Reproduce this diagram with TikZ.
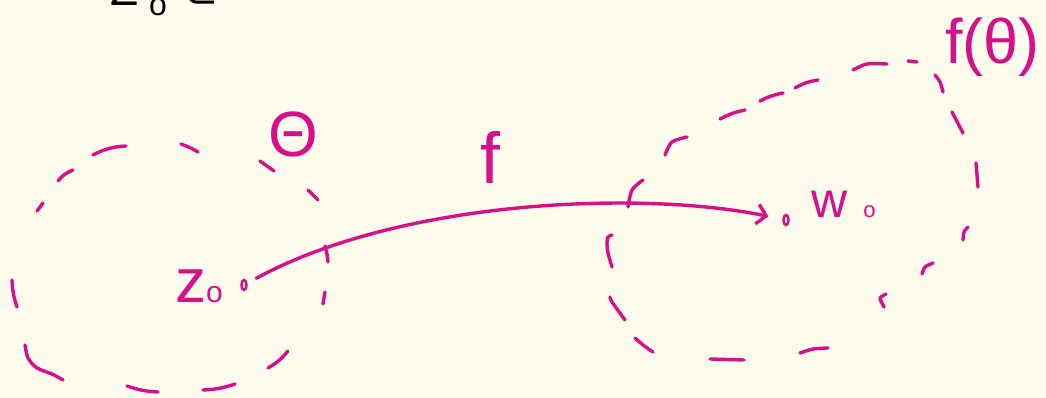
\documentclass[tikz,border=0pt]{standalone}
\usepackage{fontspec}
\setmainfont{Liberation Sans}
\newfontfamily\symfont{DejaVu Sans}
\usetikzlibrary{arrows.meta,shapes.geometric}
\definecolor{bg}{RGB}{253,251,236}
\definecolor{mag}{RGB}{214,16,138}
\begin{document}
\begin{tikzpicture}[x=1pt,y=-1pt,
  pen/.style={mag, line width=3.4pt, line cap=round, line join=round},
  lbl/.style={mag, inner sep=0pt, anchor=base west},
  blk/.style={black, inner sep=0pt, anchor=base west},
  ptmark/.style={draw=mag, line width=2.5pt, ellipse, minimum width=5pt, minimum height=10pt, inner sep=0pt}]
\path[use as bounding box] (0,0) rectangle (1046,398);
\clip (0,0) rectangle (1046,398);
\fill[bg] (0,0) rectangle (1046,398);

% black cut-off heading
\node[blk, font=\fontsize{46}{46}\selectfont] (Zb) at (110,6) {Z};
\node[blk, font=\fontsize{32}{32}\selectfont] (ob) at (149,16) {o};
\node[blk, font=\fontsize{42}{42}\selectfont\symfont] (sub) at (183,8) {⊂};

% left dashed region
\draw[pen] (93,155) to[bend left=12] (126,146);
\draw[pen] (181,144) to[bend left=5] (198,152);
\draw[pen] (260,161) -- (274,171);
\draw[pen] (308,190) -- (318,200);
\draw[pen] (325,246) to[bend left=5] (328,262);
\draw[pen] (325,292) -- (323,304);
\draw[pen] (288,351) to[bend left=10] (268,368);
\draw[pen] (235,384) to[bend left=8] (203,390);
\draw[pen] (158,392) to[bend left=8] (127,386);
\draw[pen] plot[smooth] coordinates {(63,380) (52,374) (37,368) (28,358) (25,345)};
\draw[pen] (17,307) to[bend left=8] (12,280);
\draw[pen] (37,211) -- (43,203);
\draw[pen] (58,181) to[bend left=15] (73,170);

% right dashed region
\draw[pen] plot[smooth] coordinates {(628,207) (632,190) (643,180)};
\draw[pen] plot[smooth] coordinates {(665,155) (672,142) (687,137)};
\draw[pen] (720,119) to[bend left=8] (745,110);
\draw[pen] (760,101) to[bend left=8] (783,93);
\draw[pen] (795,88) to[bend left=10] (818,80);
\draw[pen] plot[smooth] coordinates {(853,70) (867,64) (887,64)};
\draw[pen] (908,61) -- (917,62);
\draw[pen] plot[smooth] coordinates {(935,75) (940,82) (943,92)};
\draw[pen] (952,112) -- (963,133);
\draw[pen] (976,163) -- (978,187);
\draw[pen] plot[smooth] coordinates {(968,227) (964,232) (963,240)};
\draw[pen] plot[smooth] coordinates {(933,263) (925,267) (922,274)};
\draw[pen] plot[smooth] coordinates {(886,294) (880,298) (882,303) (884,307)};
\draw[pen] plot[smooth] coordinates {(828,348) (813,349) (800,353)};
\draw[pen] (744,360) -- (710,359);
\draw[pen] (653,352) to[bend left=5] (635,338);
\draw[pen] plot[smooth] coordinates {(625,320) (612,302) (610,297)};
\draw[pen] plot[smooth] coordinates {(612,267) (608,253) (607,243) (608,237) (612,235)};

% labels
\node[lbl, font=\fontsize{64}{64}\selectfont] (theta) at (268,157) {Θ};
\node[lbl, anchor=base, font=\fontsize{72}{72}\selectfont] (flbl) at (490,183) {f};
\node[lbl, font=\fontsize{62}{62}\selectfont] (zlbl) at (175,302) {z{\fontsize{30}{30}\selectfont o}};
\node[lbl, font=\fontsize{50}{50}\selectfont] (wlbl) at (811,218) {w\hspace{16pt}{\fontsize{22}{22}\selectfont o}};
\node[lbl, font=\fontsize{63}{63}\selectfont] (ftheta) at (945,64) {f(θ)};

% points and mapping arrow
\node[ptmark] (z0) at (244,285) {};
\node[ptmark] (w0) at (786,220) {};
\draw[pen, -{Straight Barb[length=9pt,width=20pt]}, shorten <=14pt, shorten >=18pt]
  (z0.center) .. controls (400,200) and (640,190) .. (w0.center);
\end{tikzpicture}
\end{document}
